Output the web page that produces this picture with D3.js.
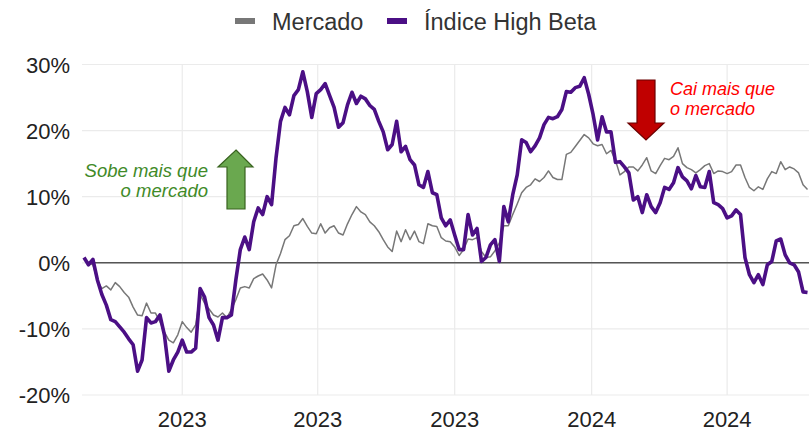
<!DOCTYPE html>
<html>
<head>
<meta charset="utf-8">
<script src="https://cdn.jsdelivr.net/npm/d3@7"></script>
<style>
  body { margin: 0; background: #fff; }
  svg { display: block; font-family: "Liberation Sans", Arial, sans-serif; }
</style>
</head>
<body>
<div id="graph"></div>
<script>
// retorno acumulado (%), uma leitura a cada 3 dias a partir de 25/01/2023
var mercado = [
  0.5, 0, -0.3, -2.6, -3.9, -3.5, -4.1, -3.0, -3.6, -4.5,
  -5.2, -6.7, -7.9, -8.0, -6.1, -7.6, -7.6, -8.9, -10.5, -11.7,
  -12.1, -10.9, -8.9, -9.8, -10.5, -9.4, -4.8, -6.1, -7.0, -7.9,
  -8.2, -7.6, -8.3, -7.1, -5.6, -3.8, -3.6, -3.8, -2.4, -2.0,
  -1.7, -2.6, -3.8, -0.3, 1.4, 3.5, 4.1, 5.6, 5.8, 6.7,
  5.5, 4.5, 4.4, 5.9, 4.5, 5.3, 5.6, 4.5, 4.2, 5.9,
  7.3, 8.5, 7.7, 7.3, 6.2, 5.6, 4.7, 3.5, 2.4, 1.7,
  4.8, 3.2, 5.0, 3.5, 4.8, 3.2, 2.9, 5.9, 5.6, 5.5,
  3.8, 3.3, 3.2, 2.4, 1.1, 2.0, 3.6, 3.5, 3.8, 1.7,
  0.8, 0.9, 1.8, 3.0, 5.6, 5.6, 7.3, 8.9, 10.6, 11.4,
  11.8, 12.7, 12.3, 12.9, 13.9, 12.9, 12.6, 12.6, 16.4, 16.7,
  17.6, 18.5, 19.4, 18.9, 18.0, 17.7, 17.9, 16.5, 17.0, 15.5,
  13.3, 13.8, 14.5, 14.5, 13.9, 14.8, 15.9, 13.9, 13.5, 14.7,
  15.8, 15.6, 16.1, 17.4, 15.0, 14.4, 14.1, 13.6, 14.1, 14.7,
  15.0, 13.5, 13.9, 13.8, 13.5, 13.8, 14.8, 14.8, 12.9, 11.4,
  10.9, 11.5, 11.1, 12.7, 13.8, 13.5, 15.3, 14.1, 14.5, 14.2,
  13.6, 11.8, 11.1
];
var highBeta = [
  0.8, -0.3, 0.5, -2.6, -4.8, -6.4, -8.6, -8.9, -9.7, -10.5,
  -11.5, -12.4, -16.4, -14.7, -8.3, -9.1, -8.9, -7.9, -10.9, -16.4,
  -14.7, -13.5, -11.7, -13.5, -13.5, -12.9, -3.9, -5.2, -8.3, -9.4,
  -11.7, -8.3, -8.3, -7.9, -2.6, 2.0, 3.9, 2.0, 6.2, 8.3,
  7.3, 10.0, 8.8, 15.9, 21.4, 23.5, 22.4, 25.3, 26.2, 28.9,
  25.9, 22.0, 25.6, 26.2, 27.1, 25.3, 23.5, 20.5, 21.2, 23.9,
  25.8, 24.1, 25.2, 24.8, 23.8, 23.2, 21.4, 19.8, 17.1, 17.9,
  21.4, 16.8, 17.6, 15.6, 14.8, 11.8, 11.4, 13.8, 10.6, 10.3,
  6.8, 5.6, 6.5, 4.2, 2.0, 2.0, 7.3, 4.2, 5.2, 0.2,
  0.8, 2.7, 3.5, 0.2, 8.5, 6.2, 10.3, 13.3, 18.6, 18.2,
  16.8, 17.7, 18.9, 20.9, 22.0, 21.8, 22.1, 23.2, 25.9, 25.8,
  26.5, 26.7, 28.0, 25.5, 22.4, 18.6, 22.1, 19.8, 19.8, 15.2,
  15.3, 14.5, 13.6, 9.5, 10.0, 7.6, 10.3, 8.5, 7.6, 9.1,
  11.4, 11.1, 12.1, 14.4, 13.0, 12.4, 11.2, 13.2, 11.5, 11.4,
  13.8, 9.1, 8.8, 8.2, 6.8, 7.1, 8.0, 7.3, 0.8, -1.8,
  -3.0, -1.8, -3.3, -0.3, 0.2, 3.3, 3.6, 1.2, 0.0, -0.3,
  -1.4, -4.4, -4.5
];
var dates = d3.timeDay.range(new Date(2023, 0, 25), new Date(2024, 4, 26), 3).slice(0, highBeta.length);
var xTicks = [new Date(2023, 3, 1), new Date(2023, 6, 1), new Date(2023, 9, 1), new Date(2024, 0, 1), new Date(2024, 3, 1)];
var yTicks = [-20, -10, 0, 10, 20, 30];
var seriesNames = ['Mercado', 'Índice High Beta'];
var seriesColors = ['#777777', '#4b0f85'];

function drawChart() {
    var width = 809, height = 432;
    var margin = { left: 82, right: 809, top: 64.5, bottom: 395 };

    var svg = d3.select('#graph').append('svg')
        .attr('width', width)
        .attr('height', height);

    var x = d3.scaleTime()
        .domain([new Date(2023, 0, 25), new Date(2024, 4, 26)])
        .range([84, 809]);

    var y = d3.scaleLinear()
        .domain([-20, 30])
        .range([margin.bottom, margin.top]);

    // grid
    svg.append('g')
        .selectAll('line')
        .data(yTicks)
        .enter().append('line')
        .attr('x1', margin.left).attr('x2', margin.right)
        .attr('y1', d => y(d)).attr('y2', d => y(d))
        .attr('stroke', '#ebebeb').attr('stroke-width', 1.2);

    svg.append('g')
        .selectAll('line')
        .data(xTicks)
        .enter().append('line')
        .attr('x1', d => x(d)).attr('x2', d => x(d))
        .attr('y1', margin.top).attr('y2', margin.bottom)
        .attr('stroke', '#ebebeb').attr('stroke-width', 1.2);

    // y labels
    svg.append('g')
        .selectAll('text')
        .data(yTicks)
        .enter().append('text')
        .attr('x', 70)
        .attr('y', d => y(d) + 8)
        .attr('text-anchor', 'end')
        .style('font-size', '22px')
        .style('fill', '#222')
        .text(d => d + '%');

    // x labels
    svg.append('g')
        .selectAll('text')
        .data(xTicks)
        .enter().append('text')
        .attr('x', d => x(d))
        .attr('y', 427)
        .attr('text-anchor', 'middle')
        .style('font-size', '22px')
        .style('fill', '#222')
        .text(d => d3.timeFormat('%Y')(d));

    // linha do zero
    svg.append('line')
        .attr('x1', 95).attr('x2', margin.right)
        .attr('y1', y(0)).attr('y2', y(0))
        .attr('stroke', '#555').attr('stroke-width', 1.5);

    var line = d3.line()
        .x((d, i) => x(dates[i]))
        .y(d => y(d));

    svg.append('path')
        .datum(mercado)
        .attr('fill', 'none')
        .attr('stroke', seriesColors[0])
        .attr('stroke-width', 1.5)
        .attr('stroke-linejoin', 'round')
        .attr('d', line);

    svg.append('path')
        .datum(highBeta)
        .attr('fill', 'none')
        .attr('stroke', seriesColors[1])
        .attr('stroke-width', 3.6)
        .attr('stroke-linejoin', 'round')
        .attr('d', line);

    // legend
    var legendX = [235, 387];
    seriesNames.forEach(function (name, i) {
        svg.append('rect')
            .attr('x', legendX[i]).attr('y', 18)
            .attr('width', 20).attr('height', 6)
            .attr('fill', seriesColors[i]);
        svg.append('text')
            .attr('x', legendX[i] + 37)
            .attr('y', 29.5)
            .style('font-size', '23.5px')
            .style('fill', '#333')
            .text(name);
    });

    // anotacoes
    svg.append('path')
        .attr('d', 'M236,150 L253,167 L245,167 L245,209 L227,209 L227,167 L218,167 Z')
        .attr('fill', '#6aa84f').attr('stroke', '#38631f').attr('stroke-width', 1.2);

    svg.append('text')
        .attr('x', 208).attr('y', 177)
        .attr('text-anchor', 'end')
        .style('font-size', '18.5px').style('font-style', 'italic').style('fill', '#3f8a28')
        .selectAll('tspan')
        .data(['Sobe mais que', 'o mercado'])
        .enter().append('tspan')
        .attr('x', 208)
        .attr('dy', (d, i) => i ? 20 : 0)
        .text(d => d);

    svg.append('path')
        .attr('d', 'M637,80 L655,80 L655,123 L664,123 L646,140 L628,123 L637,123 Z')
        .attr('fill', '#c00000').attr('stroke', '#6b0000').attr('stroke-width', 1.2);

    svg.append('text')
        .attr('x', 670).attr('y', 95)
        .style('font-size', '18px').style('font-style', 'italic').style('fill', '#ff0000')
        .selectAll('tspan')
        .data(['Cai mais que', 'o mercado'])
        .enter().append('tspan')
        .attr('x', 670)
        .attr('dy', (d, i) => i ? 20 : 0)
        .text(d => d);
}

drawChart();
</script>
</body>
</html>
